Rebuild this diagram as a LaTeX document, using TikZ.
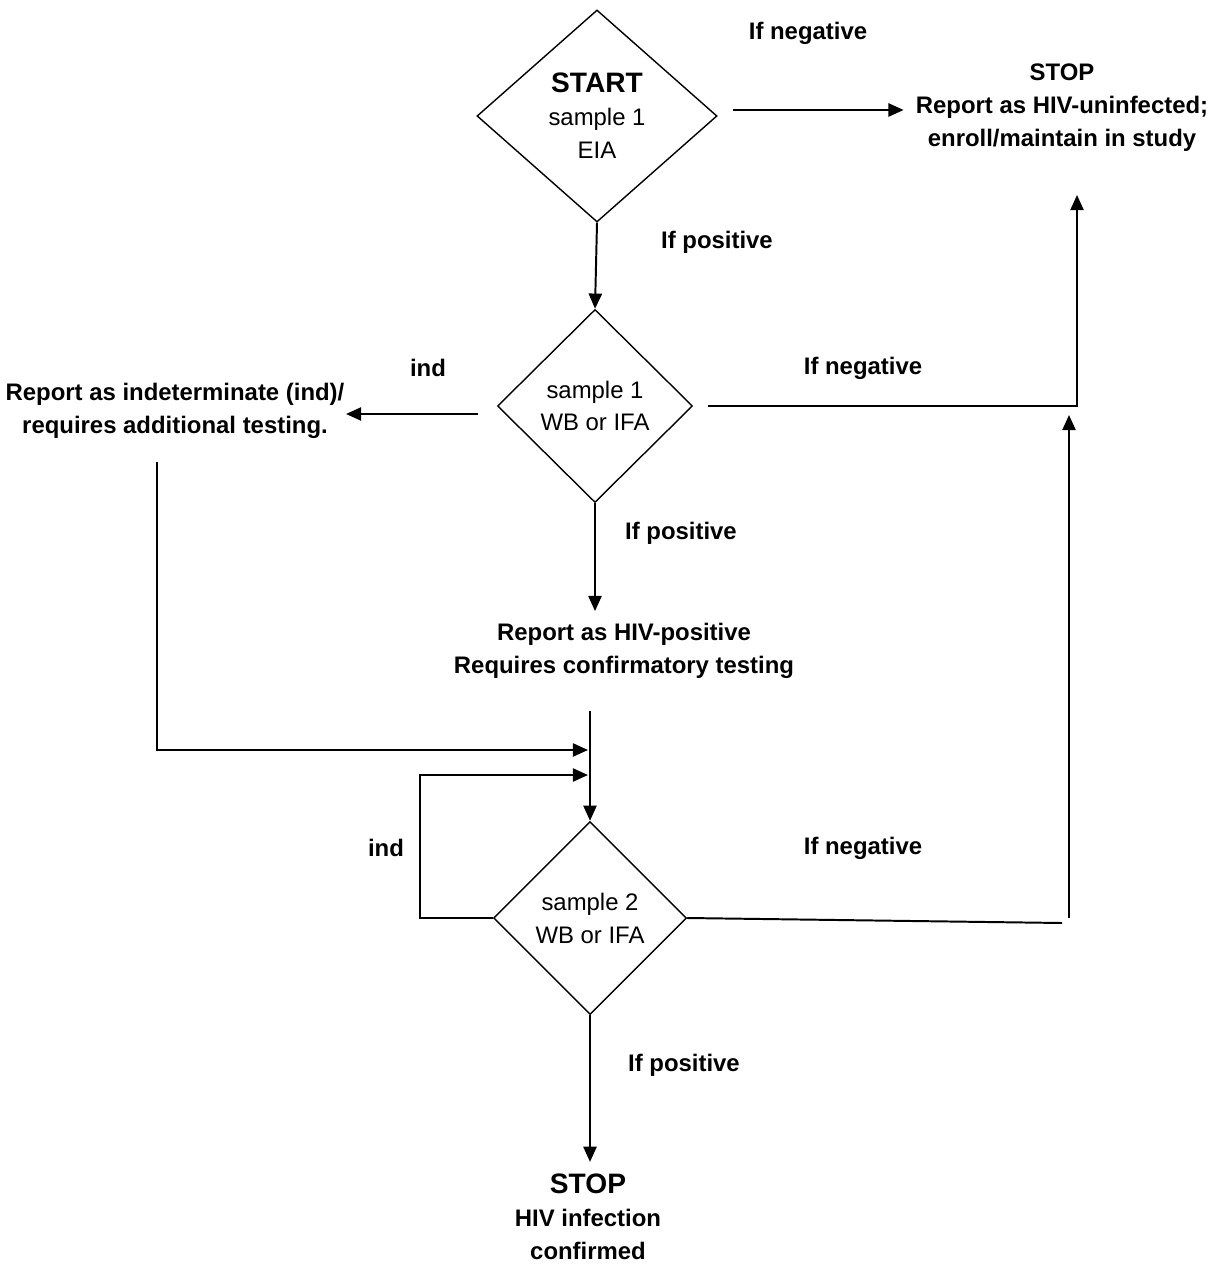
\documentclass[tikz,border=0pt]{standalone}
\usepackage{fontspec}
\setmainfont{Liberation Sans}
\setsansfont{Liberation Sans}
\usetikzlibrary{shapes.geometric,arrows.meta}

\begin{document}
\begin{tikzpicture}[x=0.025cm,y=-0.025cm,font=\fontsize{17}{23.4}\selectfont,
    test/.style={diamond,draw,line width=1pt,inner sep=0pt,align=center},
    rep/.style={font=\fontsize{17}{23.4}\selectfont\bfseries,align=center,inner sep=0.3cm},
    lbl/.style={font=\fontsize{17}{20}\selectfont\bfseries},
    arr/.style={line width=1.4pt,-{Triangle[length=0.38cm,width=0.33cm]}},
    ln/.style={line width=1.4pt}]
    \useasboundingbox (0,0) rectangle (1225,1266);

    \node[test,minimum width=6cm,minimum height=5.3cm] (eia) at (597,116)
        {{\fontsize{20}{24}\selectfont\bfseries START}\\sample 1\\EIA};
    \node[test,minimum width=4.875cm,minimum height=4.825cm] (wb1) at (595,406) {sample 1\\WB or IFA};
    \node[test,minimum width=4.825cm,minimum height=4.825cm] (wb2) at (590,918) {sample 2\\WB or IFA};

    \node[rep] (neg) at (1062,108) {STOP\\Report as HIV-uninfected;\\enroll/maintain in study};
    \node[rep,inner xsep=1pt] (ind) at (175,411) {Report as indeterminate (ind)/\\requires additional testing.};
    \node[rep] (pos) at (624,651) {Report as HIV-positive\\Requires confirmatory testing};
    \node[rep] (hiv) at (588,1217) {{\fontsize{20}{24}\selectfont STOP}\\HIV infection\\confirmed};

    \node[lbl] (negA) at (808,33) {If negative};
    \node[lbl] (posA) at (717,242) {If positive};
    \node[lbl] (indB) at (428,368) {ind};
    \node[lbl] (negB) at (863,368) {If negative};
    \node[lbl] (posB) at (681,533) {If positive};
    \node[lbl] (indC) at (386,848) {ind};
    \node[lbl] (negC) at (863,848) {If negative};
    \node[lbl] (posC) at (684,1065) {If positive};

    \coordinate (stopin) at (1077,195);
    \coordinate (indout) at (157,462);
    \coordinate (joinind) at (588,750);
    \coordinate (loopx) at (420,775);
    \coordinate (joinloop) at (588,775);
    \coordinate (negend) at (1062,923);
    \coordinate (negfoot) at (1069,918);
    \coordinate (negtip) at (1069,415);

    \draw[arr] (eia.south) -- (wb1.north);
    \draw[arr,shorten <=0.375cm] ([yshift=0.15cm]eia.east) -- ([yshift=0.15cm]eia.east -| neg.west);
    \draw[arr,shorten <=0.475cm] ([yshift=-0.2cm]wb1.west) -- ([yshift=-0.2cm]wb1.west -| ind.east);
    \draw[arr,shorten <=0.375cm] (wb1.east) -| (stopin);
    \draw[arr] (wb1.south) -- (wb1.south |- pos.north);
    \draw[arr,shorten <=0.5cm] (pos.south -| wb2.north) -- (wb2.north);
    \draw[arr] (indout) |- (joinind);
    \draw[arr] (wb2.west) -| (loopx) -- (joinloop);
    \draw[ln] (wb2.east) -- (negend);
    \draw[arr] (negfoot) -- (negtip);
    \draw[arr] (wb2.south) -- (wb2.south |- hiv.north);
    \end{tikzpicture}
\end{document}
